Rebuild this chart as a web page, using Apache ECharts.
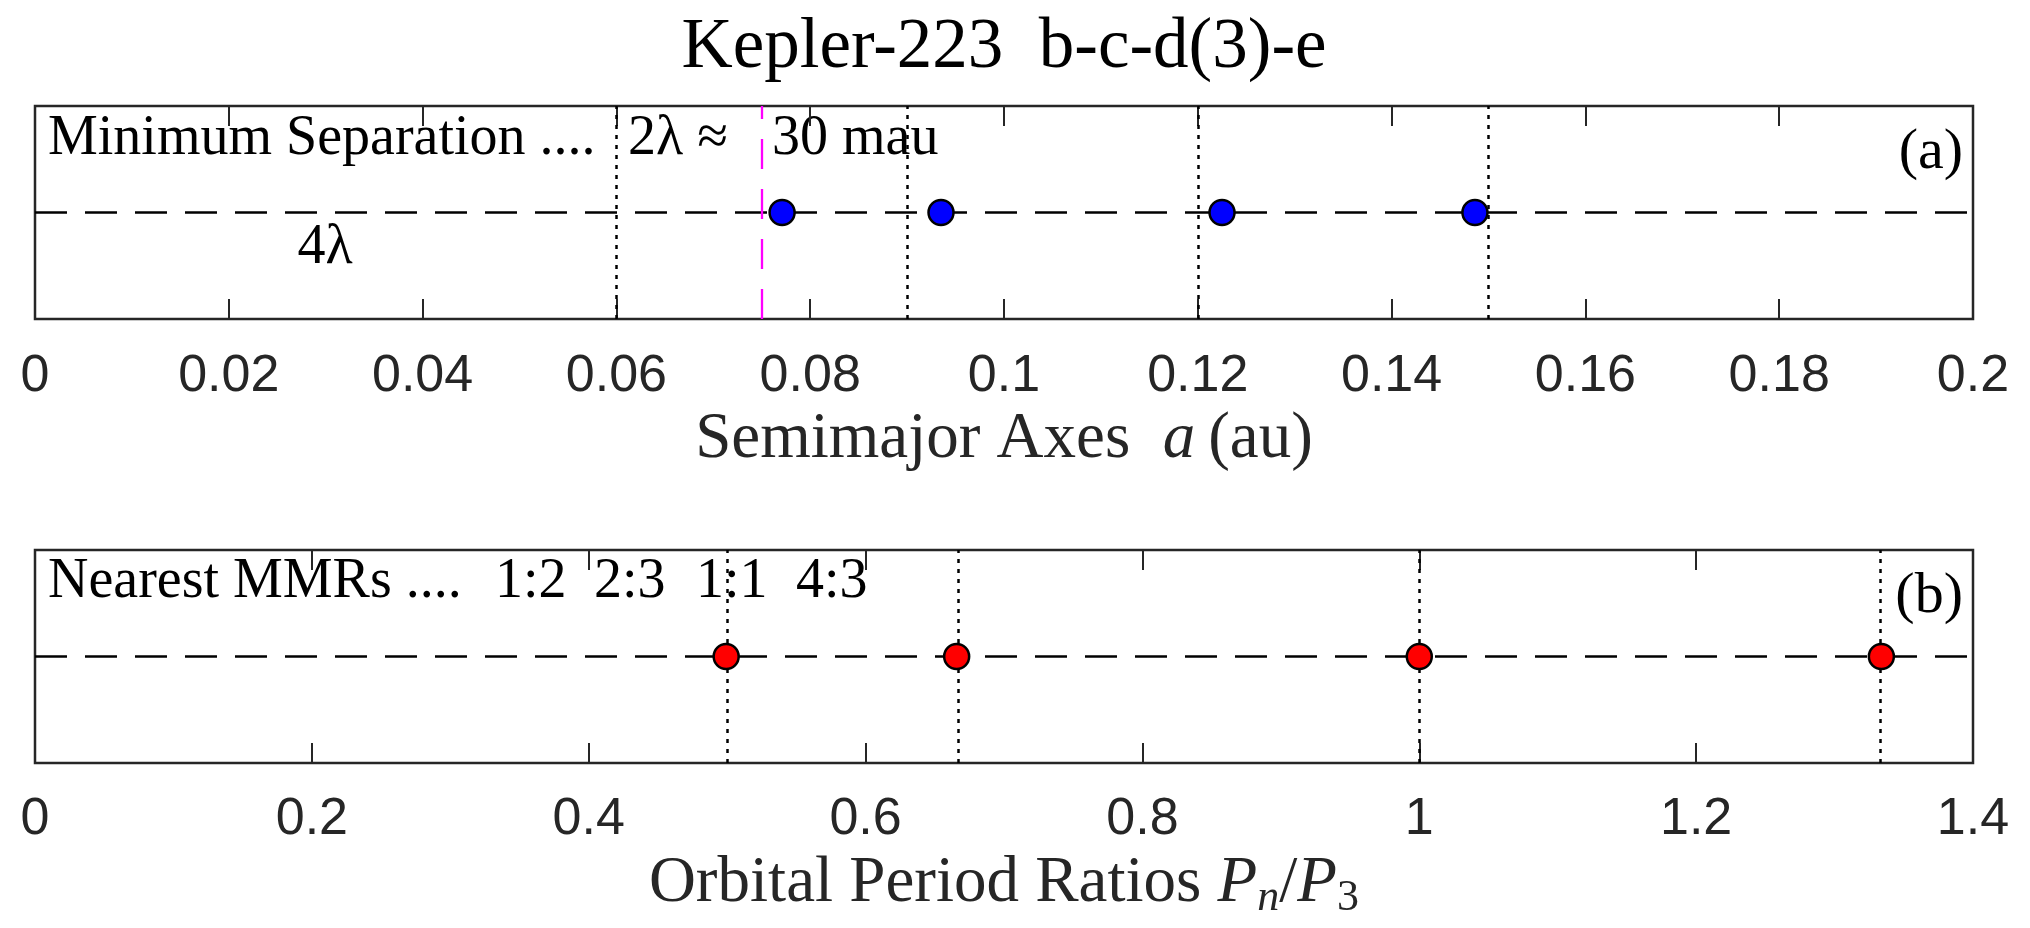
<!DOCTYPE html>
<html>
<head>
<meta charset="utf-8">
<script src="https://cdn.jsdelivr.net/npm/echarts@6/dist/echarts.min.js"></script>
<style>
html,body{margin:0;padding:0;background:#fff;}
#chart{width:2030px;height:928px;}
</style>
</head>
<body>
<div id="chart"></div>
<script>
// ---- data ----
const planets = ['b', 'c', 'd', 'e'];
const semiMajorAxes = [0.0771, 0.0935, 0.1225, 0.1486];      // au
const periodRatios = [0.4993, 0.6658, 1.0, 1.3338];          // P_n / P_3
const separationLines = [0.06, 0.09, 0.12, 0.15];            // multiples of 2λ
const minSeparation = 0.075;                                 // magenta line
const mmrValues = [0.5, 0.6667, 1.0, 1.3333];                // nearest MMRs
const mmrLabels = ['1:2', '2:3', '1:1', '4:3'];
const axisA = { min: 0, max: 0.2, interval: 0.02 };
const axisB = { min: 0, max: 1.4, interval: 0.2 };

const serif = 'Liberation Serif';
const sans = 'Liberation Sans';
const frameColor = '#262626';

const chart = echarts.init(document.getElementById('chart'), null, { renderer: 'canvas' });

function bottomAxis(gridIndex, ax, margin, name, rich) {
  return {
    type: 'value', gridIndex: gridIndex, position: 'bottom',
    min: ax.min, max: ax.max, interval: ax.interval,
    axisLine: { show: false },
    axisTick: { show: true, inside: true, length: 20, lineStyle: { color: frameColor, width: 2 } },
    axisLabel: { show: true, margin: margin, fontSize: 52, fontFamily: sans, color: frameColor,
                 showMinLabel: true, showMaxLabel: true },
    splitLine: { show: false },
    name: name, nameLocation: 'middle', nameGap: 121,
    nameTextStyle: { fontFamily: serif, fontSize: 65, color: frameColor, lineHeight: 72,
                     verticalAlign: 'middle', rich: rich }
  };
}
function topAxis(gridIndex, ax) {
  return {
    type: 'value', gridIndex: gridIndex, position: 'top',
    min: ax.min, max: ax.max, interval: ax.interval,
    axisLine: { show: false },
    axisTick: { show: true, inside: true, length: 20, lineStyle: { color: frameColor, width: 2 } },
    axisLabel: { show: false }, splitLine: { show: false }
  };
}
function yAxis(gridIndex) {
  return { type: 'value', gridIndex: gridIndex, min: 0, max: 2,
           axisLine: { show: false }, axisTick: { show: false }, axisLabel: { show: false },
           splitLine: { show: false } };
}
const richBase = {
  it: { fontFamily: serif, fontStyle: 'italic', fontSize: 65, color: frameColor, lineHeight: 72 },
  sub: { fontFamily: serif, fontSize: 44, color: frameColor, lineHeight: 30, verticalAlign: 'bottom' },
  subit: { fontFamily: serif, fontStyle: 'italic', fontSize: 44, color: frameColor, lineHeight: 30, verticalAlign: 'bottom' },
  n: { fontFamily: serif, fontSize: 65, color: frameColor, lineHeight: 72 }
};

function vLines(values, style) {
  return values.map(v => [{ coord: [v, 0], lineStyle: style }, { coord: [v, 2] }]);
}
const dotted = { color: '#000', width: 2.5, type: [4, 6] };
const magenta = { color: '#ff00ff', width: 2.3, type: [30, 20] };

function baseline(xi, yi, ax, lines) {
  return {
    type: 'line', xAxisIndex: xi, yAxisIndex: yi, silent: true, z: 2,
    symbol: 'none', data: [[ax.min, 1], [ax.max, 1]],
    lineStyle: { color: '#000', width: 2.7, type: [32, 18] },
    markLine: { silent: true, symbol: ['none', 'none'], label: { show: false },
                emphasis: { disabled: true }, animation: false, data: lines }
  };
}

function txt(x, y, text, size, align, color) {
  return { type: 'text', x: x, y: y, silent: true,
           style: { text: text, fontFamily: serif, fontSize: size, fill: color || '#000',
                    align: align || 'left', verticalAlign: 'middle' } };
}

const option = {
  animation: false,
  backgroundColor: '#fff',
  grid: [
    { left: 35, right: 57, top: 106, height: 213, show: true, borderColor: frameColor, borderWidth: 2.5, backgroundColor: 'transparent' },
    { left: 35, right: 57, top: 550, height: 213, show: true, borderColor: frameColor, borderWidth: 2.5, backgroundColor: 'transparent' }
  ],
  xAxis: [
    bottomAxis(0, axisA, 32, 'Semimajor Axes  {it|a}\u2009(au)', richBase),
    topAxis(0, axisA),
    bottomAxis(1, axisB, 31, 'Orbital Period Ratios {it|P}{subit|n}{n|/}{it|P}{sub|3}', richBase),
    topAxis(1, axisB)
  ],
  yAxis: [yAxis(0), yAxis(1)],
  series: [
    baseline(0, 0, axisA, vLines(separationLines, dotted).concat(vLines([minSeparation], magenta))),
    {
      type: 'scatter', name: 'a', xAxisIndex: 0, yAxisIndex: 0, z: 5, silent: true,
      symbol: 'circle', symbolSize: 25,
      itemStyle: { color: '#0000ff', borderColor: '#000', borderWidth: 2.5, opacity: 1 },
      data: semiMajorAxes.map((v, i) => ({ name: planets[i], value: [v, 1] }))
    },
    baseline(2, 1, axisB, vLines(mmrValues, dotted)),
    {
      type: 'scatter', name: 'P', xAxisIndex: 2, yAxisIndex: 1, z: 5, silent: true,
      symbol: 'circle', symbolSize: 25,
      itemStyle: { color: '#ff0000', borderColor: '#000', borderWidth: 2.5, opacity: 1 },
      data: periodRatios.map((v, i) => ({ name: planets[i], value: [v, 1] }))
    }
  ],
  graphic: [
    txt(1004, 48, 'Kepler-223  b-c-d(3)-e', 71, 'center'),
    txt(48, 139, 'Minimum Separation ....', 56),
    txt(628, 139, '2\u03bb \u2248', 56),
    txt(772, 139, '30 mau', 56),
    txt(325, 248, '4\u03bb', 56, 'center'),
    txt(1963, 153, '(a)', 58, 'right'),
    txt(48, 582, 'Nearest MMRs ....', 56),
    txt(495, 582, mmrLabels[0], 56),
    txt(594, 582, mmrLabels[1], 56),
    txt(696, 582, mmrLabels[2], 56),
    txt(796, 582, mmrLabels[3], 56),
    txt(1963, 597, '(b)', 58, 'right')
  ]
};
chart.setOption(option);
</script>
</body>
</html>
